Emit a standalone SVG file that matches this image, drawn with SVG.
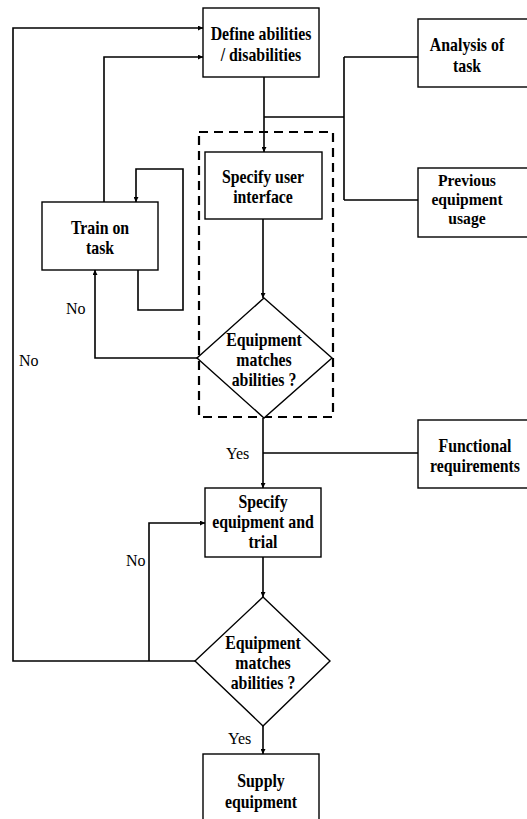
<svg xmlns="http://www.w3.org/2000/svg" width="527" height="819" viewBox="0 0 527 819">
  <style>
    .box { fill: #fff; stroke: #000; stroke-width: 1.4; }
    .dash { fill: none; stroke: #000; stroke-width: 2.2; stroke-dasharray: 9 6; }
    .line { fill: none; stroke: #000; stroke-width: 1.6; }
    .lbl { font-family: "Liberation Serif", "Times New Roman", serif; font-size: 18px; font-weight: bold; text-anchor: middle; fill: #000;
           transform-box: fill-box; transform-origin: center; transform: scaleX(0.88); }
    .lbl.tight { font-size: 17px; transform: scaleX(0.92); }
    .tag { font-family: "Liberation Serif", "Times New Roman", serif; font-size: 16px; fill: #000; }
  </style>
  <defs>
    <marker id="arr" viewBox="0 0 10 10" refX="10" refY="5" markerWidth="5" markerHeight="5" orient="auto" markerUnits="userSpaceOnUse">
      <path d="M0,0 L10,5 L0,10 z" fill="#000"/>
    </marker>
  </defs>
  <rect width="527" height="819" fill="#fff"/>

  <!-- dashed boundary around the interface loop -->
  <rect id="interface-group" class="dash" x="199" y="132" width="134" height="285"/>

  <g id="connectors">
    <!-- Define -> Specify user interface -->
    <path class="line" d="M264,77 V152" marker-end="url(#arr)"/>
    <!-- inputs from Analysis / Previous usage -->
    <path class="line" d="M264,117 H344 M344,57 V200 M344,57 H418 M344,200 H418"/>
    <!-- Specify UI -> diamond 1 -->
    <path class="line" d="M263,219 V298" marker-end="url(#arr)"/>
    <!-- No: diamond 1 -> Train on task -->
    <path class="line" d="M197,358 H95 V270" marker-end="url(#arr)"/>
    <!-- Train on task self loop -->
    <path class="line" d="M138,270 V310 H183 V169 H136 V202" marker-end="url(#arr)"/>
    <!-- Train on task -> Define -->
    <path class="line" d="M104,202 V57 H203" marker-end="url(#arr)"/>
    <!-- Yes: diamond 1 -> Specify equipment -->
    <path class="line" d="M263,418 V488" marker-end="url(#arr)"/>
    <!-- Functional requirements input -->
    <path class="line" d="M263,453 H418"/>
    <!-- Specify equipment -> diamond 2 -->
    <path class="line" d="M263,557 V597" marker-end="url(#arr)"/>
    <!-- No: diamond 2 -> Define (outer) and -> Specify equipment -->
    <path class="line" d="M195,661 H13 V28 H203" marker-end="url(#arr)"/>
    <path class="line" d="M149,661 V523 H205" marker-end="url(#arr)"/>
    <!-- Yes: diamond 2 -> Supply -->
    <path class="line" d="M263,726 V754" marker-end="url(#arr)"/>
  </g>

  <g id="define">
    <rect class="box" x="203" y="8" width="116" height="69"/>
    <text class="lbl" x="261" y="40">Define abilities</text>
    <text class="lbl" x="261" y="61">/ disabilities</text>
  </g>
  <g id="analysis">
    <rect class="box" x="418" y="19" width="115" height="68"/>
    <text class="lbl" x="467" y="51">Analysis of</text>
    <text class="lbl" x="467" y="72">task</text>
  </g>
  <g id="previous">
    <rect class="box" x="418" y="168" width="115" height="69"/>
    <text class="lbl tight" x="467" y="186">Previous</text>
    <text class="lbl tight" x="467" y="205">equipment</text>
    <text class="lbl tight" x="467" y="224">usage</text>
  </g>
  <g id="specify-ui">
    <rect class="box" x="205" y="152" width="117" height="67"/>
    <text class="lbl" x="263" y="183">Specify user</text>
    <text class="lbl" x="263" y="203">interface</text>
  </g>
  <g id="train">
    <rect class="box" x="42" y="202" width="116" height="68"/>
    <text class="lbl" x="100" y="234">Train on</text>
    <text class="lbl" x="100" y="254">task</text>
  </g>
  <g id="match-1">
    <polygon class="box" points="264,298 332,358 264,418 197,358"/>
    <text class="lbl" x="264" y="346">Equipment</text>
    <text class="lbl" x="264" y="366">matches</text>
    <text class="lbl" x="264" y="386">abilities ?</text>
  </g>
  <g id="functional">
    <rect class="box" x="418" y="420" width="115" height="68"/>
    <text class="lbl" x="475" y="452">Functional</text>
    <text class="lbl" x="475" y="472">requirements</text>
  </g>
  <g id="specify-equipment">
    <rect class="box" x="205" y="488" width="116" height="69"/>
    <text class="lbl" x="263" y="508">Specify</text>
    <text class="lbl" x="263" y="528">equipment and</text>
    <text class="lbl" x="263" y="548">trial</text>
  </g>
  <g id="match-2">
    <polygon class="box" points="263,597 330,661 263,726 195,661"/>
    <text class="lbl" x="263" y="649">Equipment</text>
    <text class="lbl" x="263" y="669">matches</text>
    <text class="lbl" x="263" y="689">abilities ?</text>
  </g>
  <g id="supply">
    <rect class="box" x="203" y="754" width="116" height="75"/>
    <text class="lbl" x="261" y="787">Supply</text>
    <text class="lbl" x="261" y="808">equipment</text>
  </g>

  <g id="labels">
    <text class="tag" x="66" y="314">No</text>
    <text class="tag" x="19" y="366">No</text>
    <text class="tag" x="226" y="459">Yes</text>
    <text class="tag" x="126" y="566">No</text>
    <text class="tag" x="228" y="744">Yes</text>
  </g>
</svg>
